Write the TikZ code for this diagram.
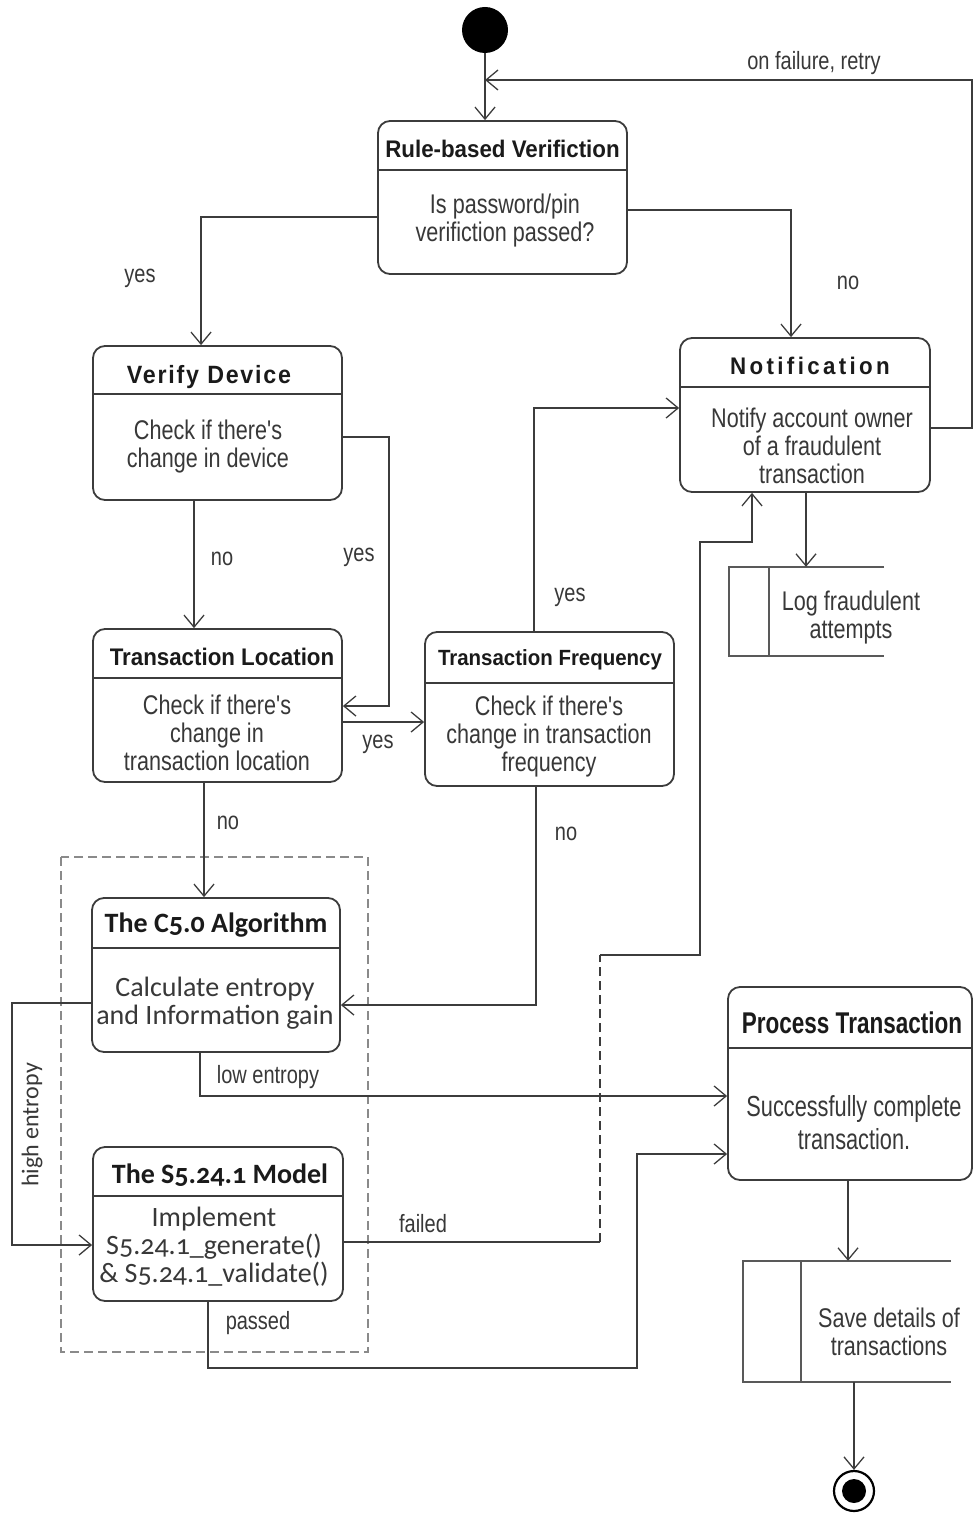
\documentclass[tikz,border=0pt]{standalone}
\usepackage{fontspec}
\setmainfont{Liberation Sans}
\newfontfamily\bodyf[FakeStretch=0.8]{Liberation Sans}
\newfontfamily\titlef[FakeStretch=0.93]{Liberation Sans}
\newfontfamily\bigtitlef[FakeStretch=0.75]{Liberation Sans}
\newfontfamily\candf[Numbers=OldStyle]{Carlito}
\usetikzlibrary{arrows.meta}
\definecolor{lc}{HTML}{3C3C3C}
\definecolor{tc}{HTML}{383838}
\definecolor{hc}{HTML}{1A1A1A}
\definecolor{dc}{HTML}{8A8A8A}
\begin{document}
\begin{tikzpicture}[x=1pt,y=-1pt,
  flow/.style={draw=lc, line width=1.4pt, -{Straight Barb[length=12pt,width=20pt,line width=1.3pt]}},
  plain/.style={draw=lc, line width=1.4pt},
  statebox/.style={draw=lc, line width=1.8pt, rounded corners=12pt, fill=white, inner sep=0pt},
  divider/.style={draw=lc, line width=1.5pt},
  objline/.style={draw=lc!85, line width=2pt},
  body/.style={font=\bodyf\fontsize{27}{28}\selectfont, text=tc, align=center, inner sep=0pt},
  cbody/.style={font=\candf\fontsize{28}{28}\selectfont, text=tc, align=center, inner sep=0pt},
  ttl/.style={font=\titlef\bfseries\fontsize{24}{26}\selectfont, text=hc, inner sep=0pt},
  cttl/.style={font=\candf\bfseries\fontsize{28}{28}\selectfont, text=hc, inner sep=0pt},
  lbl/.style={font=\bodyf\fontsize{25}{27}\selectfont, text=tc, inner sep=0pt},
  grp/.style={draw=dc, line width=1.5pt, dash pattern=on 9pt off 5pt}
]
\useasboundingbox (0,0) rectangle (974,1514);

% group frame
\draw[grp] (61,857) rectangle (368,1352);

% initial & final
\node[circle, fill=black, minimum size=46pt, inner sep=0pt] (init) at (485,30) {};
\node[circle, draw=black, line width=2.2pt, minimum size=40pt, inner sep=0pt] (final) at (854,1491) {};
\node[circle, fill=black, minimum size=24pt, inner sep=0pt] (finalin) at (854,1491) {};

% Rule-based Verifiction
\node[statebox, minimum width=249pt, minimum height=153pt] (rbv) at (502.5,197.5) {};
\draw[divider] (rbv.west |- 0,170) -- (rbv.east |- 0,170);
\node[ttl] (rbvt) at (502.5,149) {Rule-based Verifiction};
\node[body] (rbvb) at (505,221) {Is password/pin\\verifiction passed?};

% Verify Device
\node[statebox, minimum width=249pt, minimum height=154pt] (vd) at (217.5,423) {};
\draw[divider] (vd.west |- 0,394) -- (vd.east |- 0,394);
\node[ttl, font=\titlef\bfseries\fontsize{25}{26}\selectfont\addfontfeature{LetterSpace=7}] (vdt) at (209,377) {Verify Device};
\node[body] (vdb) at (208,447) {Check if there's\\change in device};

% Transaction Location
\node[statebox, minimum width=249pt, minimum height=153pt] (tl) at (217.5,705.5) {};
\draw[divider] (tl.west |- 0,678) -- (tl.east |- 0,678);
\node[ttl] (tlt) at (222,657) {Transaction Location};
\node[body] (tlb) at (217,733) {Check if there's\\change in\\transaction location};

% Transaction Frequency
\node[statebox, minimum width=249pt, minimum height=154pt] (tf) at (549.5,709) {};
\draw[divider] (tf.west |- 0,683) -- (tf.east |- 0,683);
\node[ttl, font=\titlef\bfseries\fontsize{22}{24}\selectfont] (tft) at (550,660) {Transaction Frequency};
\node[body] (tfb) at (549,737) {Check if there's\\change in transaction\\frequency};

% Notification
\node[statebox, minimum width=250pt, minimum height=154pt] (noti) at (805,415) {};
\draw[divider] (noti.west |- 0,387) -- (noti.east |- 0,387);
\node[ttl, font=\titlef\bfseries\fontsize{24}{26}\selectfont\addfontfeature{LetterSpace=14}] (notit) at (810,366) {Notification};
\node[body] (notib) at (812,446) {Notify account owner\\of a fraudulent\\transaction};

% Log fraudulent attempts
\node[minimum width=155pt, minimum height=89pt, inner sep=0pt] (log) at (806.5,611.5) {};
\draw[objline] (log.north east) -- (log.north west) -- (log.south west) -- (log.south east);
\draw[objline] (769,0 |- log.north) -- (769,0 |- log.south);
\node[body] (logt) at (851,618) {Log fraudulent\\attempts};

% C5.0 Algorithm
\node[statebox, minimum width=248pt, minimum height=154pt] (c50) at (216,975) {};
\draw[divider] (c50.west |- 0,948) -- (c50.east |- 0,948);
\node[cttl] (c50t) at (216,925) {The C5.0 Algorithm};
\node[cbody] (c50b) at (215,1003) {Calculate entropy\\and Information gain};

% S5.24.1 Model
\node[statebox, minimum width=250pt, minimum height=154pt] (s5) at (218,1224) {};
\draw[divider] (s5.west |- 0,1196) -- (s5.east |- 0,1196);
\node[cttl] (s5t) at (220,1175) {The S5.24.1 Model};
\node[cbody] (s5b) at (214,1247) {Implement\\S5.24.1\_generate()\\\& S5.24.1\_validate()};

% Process Transaction
\node[statebox, minimum width=244pt, minimum height=193pt] (pt) at (850,1083.5) {};
\draw[divider] (pt.west |- 0,1048) -- (pt.east |- 0,1048);
\node[ttl, font=\bigtitlef\bfseries\fontsize{30}{30}\selectfont] (ptt) at (852,1023) {Process Transaction};
\node[body, font=\bigtitlef\fontsize{29}{33}\selectfont] (ptb) at (854,1123) {Successfully complete\\transaction.};

% Save details
\node[minimum width=208pt, minimum height=121pt, inner sep=0pt] (save) at (847,1321.5) {};
\draw[objline] (save.north east) -- (save.north west) -- (save.south west) -- (save.south east);
\draw[objline] (801,0 |- save.north) -- (801,0 |- save.south);
\node[body] (savet) at (889,1332) {Save details of\\transactions};

% connectors
\draw[flow] (init) -- (init |- rbv.north);
\draw[flow] (noti.east |- 0,428) -- (972,428) |- (init |- 0,80);
\node[lbl] (l1) at (814,63) {on failure, retry};

\draw[flow] (rbv.west |- 0,217) -| (201,0 |- vd.north);
\node[lbl] (l2) at (140,278) {yes};
\draw[flow] (rbv.east |- 0,210) -| (791,0 |- noti.north);
\node[lbl] (l3) at (848,283) {no};

\draw[flow] (194,0 |- vd.south) -- (194,0 |- tl.north);
\node[lbl] (l4) at (222,559) {no};
\draw[flow] (vd.east |- 0,437) -- (389,437) |- (tl.east |- 0,706);
\node[lbl] (l5) at (359,557) {yes};

\draw[flow] (tl.east |- 0,722) -- (tf.west |- 0,722);
\node[lbl] (l6) at (378,744) {yes};
\draw[flow] (204,0 |- tl.south) -- (204,0 |- c50.north);
\node[lbl] (l7) at (228,823) {no};

\draw[flow] (534,0 |- tf.north) |- (noti.west |- 0,408);
\node[lbl] (l8) at (570,597) {yes};
\draw[flow] (536,0 |- tf.south) |- (c50.east |- 0,1005);
\node[lbl] (l9) at (566,834) {no};

\draw[flow] (806,0 |- noti.south) -- (806,0 |- log.north);

\draw[flow] (c50.west |- 0,1003) -- (12,1003) |- (s5.west |- 0,1245);
\node[font=\candf\fontsize{24}{24}\selectfont, text=tc, rotate=90, inner sep=0pt] (l10) at (32,1125) {high entropy};
\draw[flow] (200,0 |- c50.south) |- (pt.west |- 0,1096);
\node[lbl] (l11) at (268,1077) {low entropy};

\coordinate (fa) at (600,1242);
\coordinate (fb) at (600,955);
\draw[plain] (s5.east |- fa) -- (fa);
\draw[plain, dash pattern=on 9pt off 5pt] (fa) -- (fb);
\draw[flow] (fb) -- (700,955) |- (752,542) -- (752,0 |- noti.south);
\node[lbl] (l12) at (423,1224) {failed};

\draw[flow] (208,0 |- s5.south) |- (637,1368) |- (pt.west |- 0,1154);
\node[lbl] (l13) at (258,1323) {passed};

\draw[flow] (848,0 |- pt.south) -- (848,0 |- save.north);
\draw[flow] (854,0 |- save.south) -- (final.north);
\end{tikzpicture}
\end{document}
